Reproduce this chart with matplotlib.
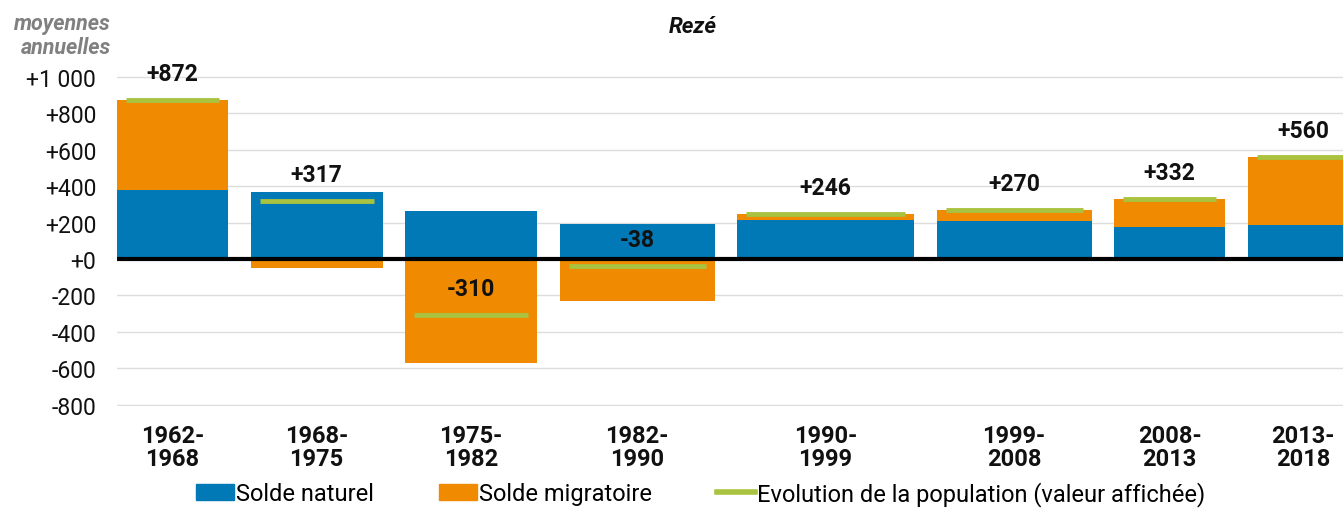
import matplotlib.pyplot as plt
from matplotlib.patches import Patch
from matplotlib.lines import Line2D
import numpy as np

# data (moyennes annuelles, Rezé)
periods = ["1962-\n1968", "1968-\n1975", "1975-\n1982", "1982-\n1990",
           "1990-\n1999", "1999-\n2008", "2008-\n2013", "2013-\n2018"]
solde_naturel = [380, 368, 264, 192, 216, 208, 176, 186]
solde_migratoire = [492, -51, -574, -230, 30, 62, 156, 374]
evolution = [872, 317, -310, -38, 246, 270, 332, 560]

yticks = [1000, 800, 600, 400, 200, 0, -200, -400, -600, -800]
ytick_labels = ["+1 000", "+800", "+600", "+400", "+200", "+0",
                "-200", "-400", "-600", "-800"]

# layout: bar widths as drawn in the original (pixel-like units)
widths = np.array([111, 132, 132, 155, 177, 155, 111, 111])
gap = 22.5

BLUE = "#0079B6"
ORANGE = "#F08A00"
GREEN = "#A9C23F"
FONT = ["Roboto", "DejaVu Sans"]

plt.rcParams["font.family"] = FONT

fig = plt.figure(figsize=(13.43, 5.10), dpi=100)
ax = fig.add_axes([117 / 1343, 0.2012, 1 - 117 / 1343, 0.6745])

lefts = np.concatenate([[0], np.cumsum(widths[:-1] + gap)])
centers = lefts + widths / 2

nat = np.array(solde_naturel)
mig = np.array(solde_migratoire)
mig_bottom = np.where(mig >= 0, np.maximum(nat, 0), np.minimum(nat, 0))

ax.bar(lefts, nat, width=widths, align="edge", color=BLUE, zorder=2)
ax.bar(lefts, mig, width=widths, bottom=mig_bottom, align="edge",
       color=ORANGE, zorder=2)

ax.hlines(evolution, lefts + 9, lefts + widths - 9, color=GREEN, lw=3.5,
          zorder=3)

for c, v in zip(centers, evolution):
    ax.annotate(f"{v:+d}", (c, v), xytext=(0, 19), textcoords="offset points",
                ha="center", va="center", fontsize=16.5, fontweight="bold",
                color="#111111", zorder=4, annotation_clip=False)

ax.axhline(0, color="black", lw=3, zorder=3)
for y in yticks:
    if y != 0:
        ax.axhline(y, color="#dddddd", lw=1, zorder=1)

ax.set_xlim(0, 1226)
ax.set_ylim(-810, 1080)
ax.set_yticks(yticks)
ax.set_yticklabels(ytick_labels, fontsize=16.5, color="#111111")
ax.set_xticks(centers)
ax.set_xticklabels(periods, fontsize=17, fontweight="bold", color="#111111",
                   linespacing=1.0)
ax.tick_params(axis="y", length=0, pad=15)
ax.tick_params(axis="x", length=0, pad=13)
for s in ax.spines.values():
    s.set_visible(False)

fig.text(693 / 1343, 1 - 27 / 510, "Rezé", ha="center", va="center",
         fontsize=16, fontweight="bold", fontstyle="italic", color="#111111")
fig.text(111 / 1343, 1 - 36 / 510, "moyennes\nannuelles", ha="right",
         va="center", fontsize=15.5, fontweight="bold", fontstyle="italic",
         color="#808080", linespacing=1.15)

handles = [Patch(color=BLUE), Patch(color=ORANGE),
           Line2D([], [], color=GREEN, lw=4)]
labels = ["Solde naturel", "Solde migratoire",
          "Evolution de la population (valeur affichée)"]
fig.legend(handles, labels, loc="lower center", bbox_to_anchor=(0.522, -0.035),
           ncol=3, frameon=False, fontsize=17, handlelength=1.6,
           handleheight=0.7, handletextpad=0.1, columnspacing=2.75)

fig.savefig("out.png", dpi=100)
